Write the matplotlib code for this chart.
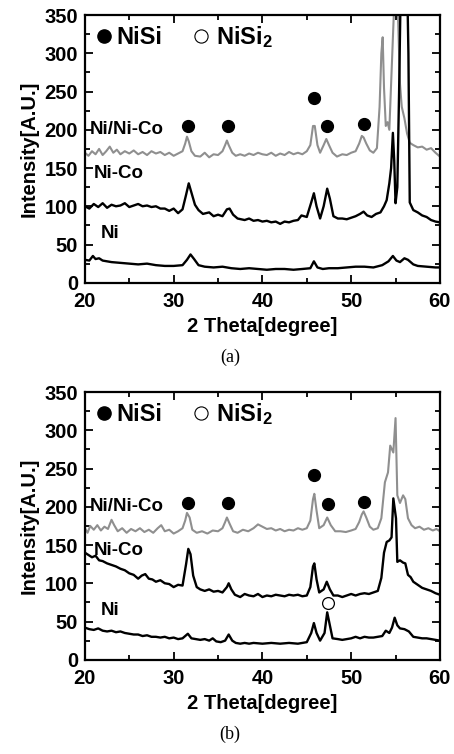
import numpy as np
import matplotlib
matplotlib.use("Agg")
import matplotlib.pyplot as plt
from matplotlib.ticker import MultipleLocator

plt.rcParams['font.family'] = ['Liberation Sans', 'DejaVu Sans']
plt.rcParams['mathtext.fontset'] = 'custom'
plt.rcParams['mathtext.rm'] = 'Liberation Sans:bold'
plt.rcParams['mathtext.it'] = 'Liberation Sans:bold'
plt.rcParams['mathtext.bf'] = 'Liberation Sans:bold'

# ---- panel (a) spectra: (2theta, intensity) ----
nico_top_a = [(20, 170), (20.4, 166), (20.8, 172), (21.2, 168), (21.6, 175), (22.0, 167), (22.4, 172),
              (22.8, 178), (23.2, 170), (23.6, 174), (24.0, 168), (24.5, 172), (25.0, 169), (25.5, 173),
              (26.0, 168), (26.5, 171), (27.0, 167), (27.5, 172), (28.0, 169), (28.5, 171), (29.0, 167),
              (29.5, 170), (30.0, 166), (30.5, 169), (31.0, 172), (31.3, 182), (31.5, 191), (31.7, 185),
              (32.0, 172), (32.4, 166), (33.0, 165), (33.5, 170), (34.0, 164), (34.5, 168), (35.0, 167),
              (35.5, 172), (35.8, 180), (36.0, 186), (36.2, 180), (36.6, 170), (37.0, 166), (37.5, 168),
              (38.0, 166), (38.5, 169), (39.0, 167), (39.5, 170), (40.0, 168), (40.5, 167), (41.0, 170),
              (41.5, 166), (42.0, 169), (42.5, 167), (43.0, 171), (43.5, 168), (44.0, 170), (44.5, 168),
              (45.0, 172), (45.4, 180), (45.7, 205), (45.9, 205), (46.2, 180), (46.5, 170), (46.9, 180),
              (47.2, 188), (47.5, 180), (47.9, 170), (48.4, 165), (49.0, 168), (49.5, 167), (50.0, 170),
              (50.5, 172), (50.9, 182), (51.2, 192), (51.4, 190), (51.7, 182), (52.1, 173), (52.5, 170),
              (52.9, 176), (53.2, 230), (53.4, 300), (53.55, 321), (53.7, 255), (53.9, 205), (54.1, 210),
              (54.3, 200), (54.6, 290), (54.9, 380), (55.2, 380), (55.5, 260), (55.7, 230), (56.0, 215),
              (56.3, 195), (56.6, 183), (57.0, 180), (57.5, 177), (58.0, 178), (58.5, 174), (59.0, 176),
              (59.5, 170), (60.0, 165)]

nico_a = [(20, 100), (20.5, 97), (21.0, 103), (21.5, 99), (22.0, 104), (22.5, 98), (23.0, 102), (23.5, 100),
          (24.0, 101), (24.5, 104), (25.0, 99), (25.5, 101), (26.0, 103), (26.5, 100), (27.0, 101),
          (27.5, 99), (28.0, 100), (28.5, 97), (29.0, 97), (29.5, 94), (30.0, 97), (30.5, 91), (31.0, 96),
          (31.4, 115), (31.7, 130), (32.0, 118), (32.4, 102), (32.8, 95), (33.3, 90), (34.0, 92), (34.5, 87),
          (35.0, 89), (35.5, 87), (36.0, 96), (36.3, 97), (36.7, 89), (37.2, 84), (38.0, 82), (38.5, 84),
          (39.0, 81), (39.5, 82), (40.0, 80), (40.5, 81), (41.0, 79), (41.5, 80), (42.0, 77), (42.5, 80),
          (43.0, 79), (43.5, 81), (44.0, 82), (44.4, 88), (45.0, 86), (45.5, 105), (45.8, 117), (46.1, 100),
          (46.5, 84), (46.9, 100), (47.3, 123), (47.6, 110), (48.0, 87), (48.5, 84), (49.0, 84), (49.5, 83),
          (50.0, 85), (50.5, 87), (51.0, 90), (51.4, 93), (51.8, 88), (52.3, 86), (52.8, 90), (53.3, 92),
          (53.7, 100), (54.0, 108), (54.3, 130), (54.5, 150), (54.7, 196), (54.85, 160), (55.0, 104),
          (55.2, 125), (55.4, 250), (55.6, 400), (56.3, 400), (56.45, 300), (56.6, 105), (57.0, 95),
          (57.5, 92), (58.0, 88), (58.5, 86), (59.0, 82), (59.5, 80), (60.0, 79)]

ni_a = [(20, 30), (20.5, 29), (20.9, 35), (21.2, 31), (21.6, 32), (22.0, 29), (22.5, 28), (23.0, 27),
        (24.0, 26), (25.0, 25), (26.0, 24), (27.0, 25), (28.0, 23), (29.0, 22), (30.0, 22), (31.0, 23),
        (31.5, 30), (31.9, 37), (32.3, 31), (32.8, 23), (33.5, 21), (34.5, 20), (35.5, 21), (36.5, 19),
        (37.5, 18), (38.5, 19), (39.5, 18), (40.5, 17), (41.5, 18), (42.5, 18), (43.5, 17), (44.5, 18),
        (45.4, 19), (45.8, 28), (46.2, 20), (46.8, 18), (47.5, 19), (48.5, 19), (49.5, 20), (50.5, 21),
        (51.5, 21), (52.5, 20), (53.5, 23), (54.2, 28), (54.7, 35), (55.1, 29), (55.5, 27), (56.0, 32),
        (56.4, 30), (57.0, 24), (57.5, 22), (58.5, 21), (59.5, 20), (60.0, 20)]

# ---- panel (b) spectra ----
nico_top_b = [(20, 172), (20.3, 166), (20.6, 175), (21.0, 170), (21.4, 176), (21.8, 169), (22.2, 174),
              (22.6, 171), (23.0, 183), (23.3, 176), (23.7, 168), (24.2, 172), (24.7, 166), (25.2, 171),
              (25.7, 168), (26.2, 172), (26.7, 167), (27.2, 170), (27.7, 166), (28.2, 172), (28.6, 176),
              (29.0, 168), (29.5, 170), (30.0, 165), (30.5, 168), (31.0, 172), (31.3, 182), (31.5, 192),
              (31.8, 186), (32.1, 170), (32.6, 166), (33.2, 168), (33.8, 165), (34.4, 169), (35.0, 168),
              (35.5, 172), (35.8, 180), (36.0, 186), (36.3, 178), (36.7, 168), (37.2, 166), (37.8, 170),
              (38.4, 168), (39.0, 172), (39.5, 177), (40.0, 174), (40.5, 171), (41.0, 172), (41.5, 169),
              (42.0, 171), (42.5, 168), (43.0, 170), (43.5, 169), (44.0, 172), (44.5, 170), (45.0, 172),
              (45.4, 182), (45.7, 210), (45.85, 217), (46.1, 195), (46.4, 172), (46.9, 176), (47.3, 186),
              (47.7, 176), (48.2, 168), (48.8, 168), (49.4, 167), (50.0, 169), (50.5, 171), (50.9, 180),
              (51.2, 190), (51.4, 194), (51.7, 186), (52.1, 174), (52.5, 170), (53.0, 172), (53.4, 185),
              (53.8, 232), (54.15, 245), (54.4, 280), (54.75, 271), (55.0, 316), (55.2, 215), (55.5, 205),
              (55.85, 215), (56.1, 210), (56.4, 185), (56.8, 176), (57.2, 172), (57.7, 174), (58.2, 170),
              (58.7, 172), (59.2, 169), (59.6, 171), (60.0, 168)]

nico_b = [(20, 140), (20.4, 137), (20.8, 134), (21.2, 136), (21.6, 130), (22.0, 129), (22.5, 126),
          (23.0, 124), (23.5, 122), (24.0, 119), (24.5, 117), (25.0, 113), (25.5, 111), (26.0, 106),
          (26.4, 110), (26.8, 112), (27.2, 106), (27.6, 105), (28.0, 102), (28.5, 104), (29.0, 100),
          (29.5, 99), (30.0, 95), (30.5, 98), (31.0, 97), (31.4, 125), (31.65, 145), (31.9, 138), (32.2, 110),
          (32.6, 95), (33.0, 92), (33.5, 90), (34.0, 92), (34.5, 89), (35.0, 90), (35.5, 88), (36.0, 95),
          (36.2, 100), (36.5, 92), (36.9, 85), (37.5, 82), (38.0, 86), (38.5, 84), (39.0, 83), (39.5, 86),
          (40.0, 82), (40.5, 84), (41.0, 83), (41.5, 85), (42.0, 84), (42.5, 83), (43.0, 85), (43.5, 84),
          (44.0, 85), (44.5, 83), (45.0, 84), (45.4, 95), (45.7, 122), (45.85, 126), (46.1, 105), (46.4, 88),
          (46.9, 92), (47.25, 102), (47.6, 92), (48.0, 84), (48.5, 84), (49.0, 82), (49.5, 84), (50.0, 86),
          (50.5, 84), (51.0, 86), (51.5, 87), (52.0, 86), (52.5, 88), (53.0, 90), (53.4, 107), (53.7, 140),
          (54.0, 154), (54.3, 156), (54.55, 160), (54.75, 211), (55.05, 185), (55.2, 128), (55.5, 130),
          (55.85, 127), (56.1, 126), (56.4, 111), (56.7, 108), (57.0, 102), (57.5, 98), (58.0, 94),
          (58.5, 92), (59.0, 90), (59.5, 87), (60.0, 85)]

ni_b = [(20, 42), (20.5, 40), (21.0, 39), (21.5, 41), (22.0, 38), (22.5, 37), (23.0, 38), (23.5, 36),
        (24.0, 37), (24.5, 35), (25.0, 34), (25.5, 33), (26.0, 33), (26.5, 31), (27.0, 32), (27.5, 30),
        (28.0, 30), (28.5, 29), (29.0, 30), (29.5, 28), (30.0, 29), (30.5, 27), (31.0, 28), (31.6, 34),
        (32.0, 28), (32.5, 27), (33.0, 26), (33.5, 27), (34.0, 25), (34.4, 28), (34.8, 24), (35.3, 23),
        (35.8, 25), (36.2, 33), (36.6, 25), (37.0, 22), (37.5, 21), (38.0, 22), (38.5, 21), (39.0, 22),
        (40.0, 21), (41.0, 22), (42.0, 21), (43.0, 22), (44.0, 21), (45.0, 23), (45.5, 35), (45.8, 48),
        (46.1, 35), (46.5, 25), (47.0, 35), (47.3, 62), (47.6, 45), (47.9, 28), (48.5, 27), (49.0, 26),
        (49.5, 27), (50.0, 28), (50.5, 30), (51.0, 28), (51.5, 30), (52.0, 29), (52.5, 29), (53.0, 30),
        (53.5, 31), (53.9, 38), (54.3, 35), (54.6, 42), (54.9, 55), (55.2, 45), (55.5, 41), (56.0, 40),
        (56.5, 37), (57.0, 30), (57.5, 29), (58.0, 28), (58.5, 28), (59.0, 27), (59.5, 26), (60.0, 25)]

# peak markers
nisi_a = [(31.6, 205), (36.1, 205), (45.8, 242), (47.3, 205), (51.4, 207)]
nisi_b = [(31.6, 205), (36.1, 205), (45.8, 242), (47.4, 204), (51.4, 206)]
nisi2_a = []
nisi2_b = [(47.4, 74)]

curve_labels = ["Ni/Ni-Co", "Ni-Co", "Ni"]
label_pos = [(20.5, 200), (21.0, 143), (21.8, 65)]

fig = plt.figure(figsize=(4.54, 7.54), dpi=100)
ax_a = fig.add_axes([0.187, 0.625, 0.782, 0.355])
ax_b = fig.add_axes([0.187, 0.125, 0.782, 0.355])

panels = [(ax_a, nico_top_a, nico_a, ni_a, nisi_a, nisi2_a, "(a)", 0.526),
          (ax_b, nico_top_b, nico_b, ni_b, nisi_b, nisi2_b, "(b)", 0.026)]

for ax, top, mid, bot, pk1, pk2, cap, cap_y in panels:
    t = np.array(top)
    m = np.array(mid)
    b = np.array(bot)
    ax.plot(t[:, 0], t[:, 1], color='#8f8f8f', lw=1.5)
    ax.plot(m[:, 0], m[:, 1], color='black', lw=1.7)
    ax.plot(b[:, 0], b[:, 1], color='black', lw=1.7)

    for px, py in pk1:
        ax.plot(px, py, 'o', color='black', ms=8.5)
    for px, py in pk2:
        ax.plot(px, py, 'o', mfc='white', mec='black', mew=0.9, ms=8.5)

    # legend-like header
    ax.plot(22.2, 322, 'o', color='black', ms=9.5)
    ax.text(23.6, 321, "NiSi", fontsize=17, fontweight='bold', va='center')
    ax.plot(33.1, 322, 'o', mfc='white', mec='black', mew=0.8, ms=9.5)
    ax.text(34.8, 321, "NiSi$_{2}$", fontsize=17, fontweight='bold', va='center')

    for lab, (lx, ly) in zip(curve_labels, label_pos):
        ax.text(lx, ly, lab, fontsize=13.5, fontweight='bold', va='center')

    ax.set_xlim(20, 60)
    ax.set_ylim(0, 350)
    ax.xaxis.set_major_locator(MultipleLocator(10))
    ax.xaxis.set_minor_locator(MultipleLocator(5))
    ax.yaxis.set_major_locator(MultipleLocator(50))
    ax.yaxis.set_minor_locator(MultipleLocator(25))
    ax.tick_params(which='both', direction='in', top=True, right=True, width=1.3)
    ax.tick_params(which='major', length=6, labelsize=14.5)
    ax.tick_params(axis='y', which='major', pad=5)
    ax.tick_params(axis='x', which='major', pad=7)
    ax.tick_params(which='minor', length=3.5)
    for lbl in ax.get_xticklabels() + ax.get_yticklabels():
        lbl.set_fontweight('bold')
    for s in ax.spines.values():
        s.set_linewidth(1.6)
    ax.set_xlabel("2 Theta[degree]", fontsize=14.5, fontweight='bold', labelpad=4)
    ax.set_ylabel("Intensity[A.U.]", fontsize=14.5, fontweight='bold', labelpad=4)

    fig.text(0.507, cap_y, cap, fontsize=13, family=['Liberation Serif', 'DejaVu Serif'],
             ha='center', va='center')

fig.savefig("out.png", dpi=100)
